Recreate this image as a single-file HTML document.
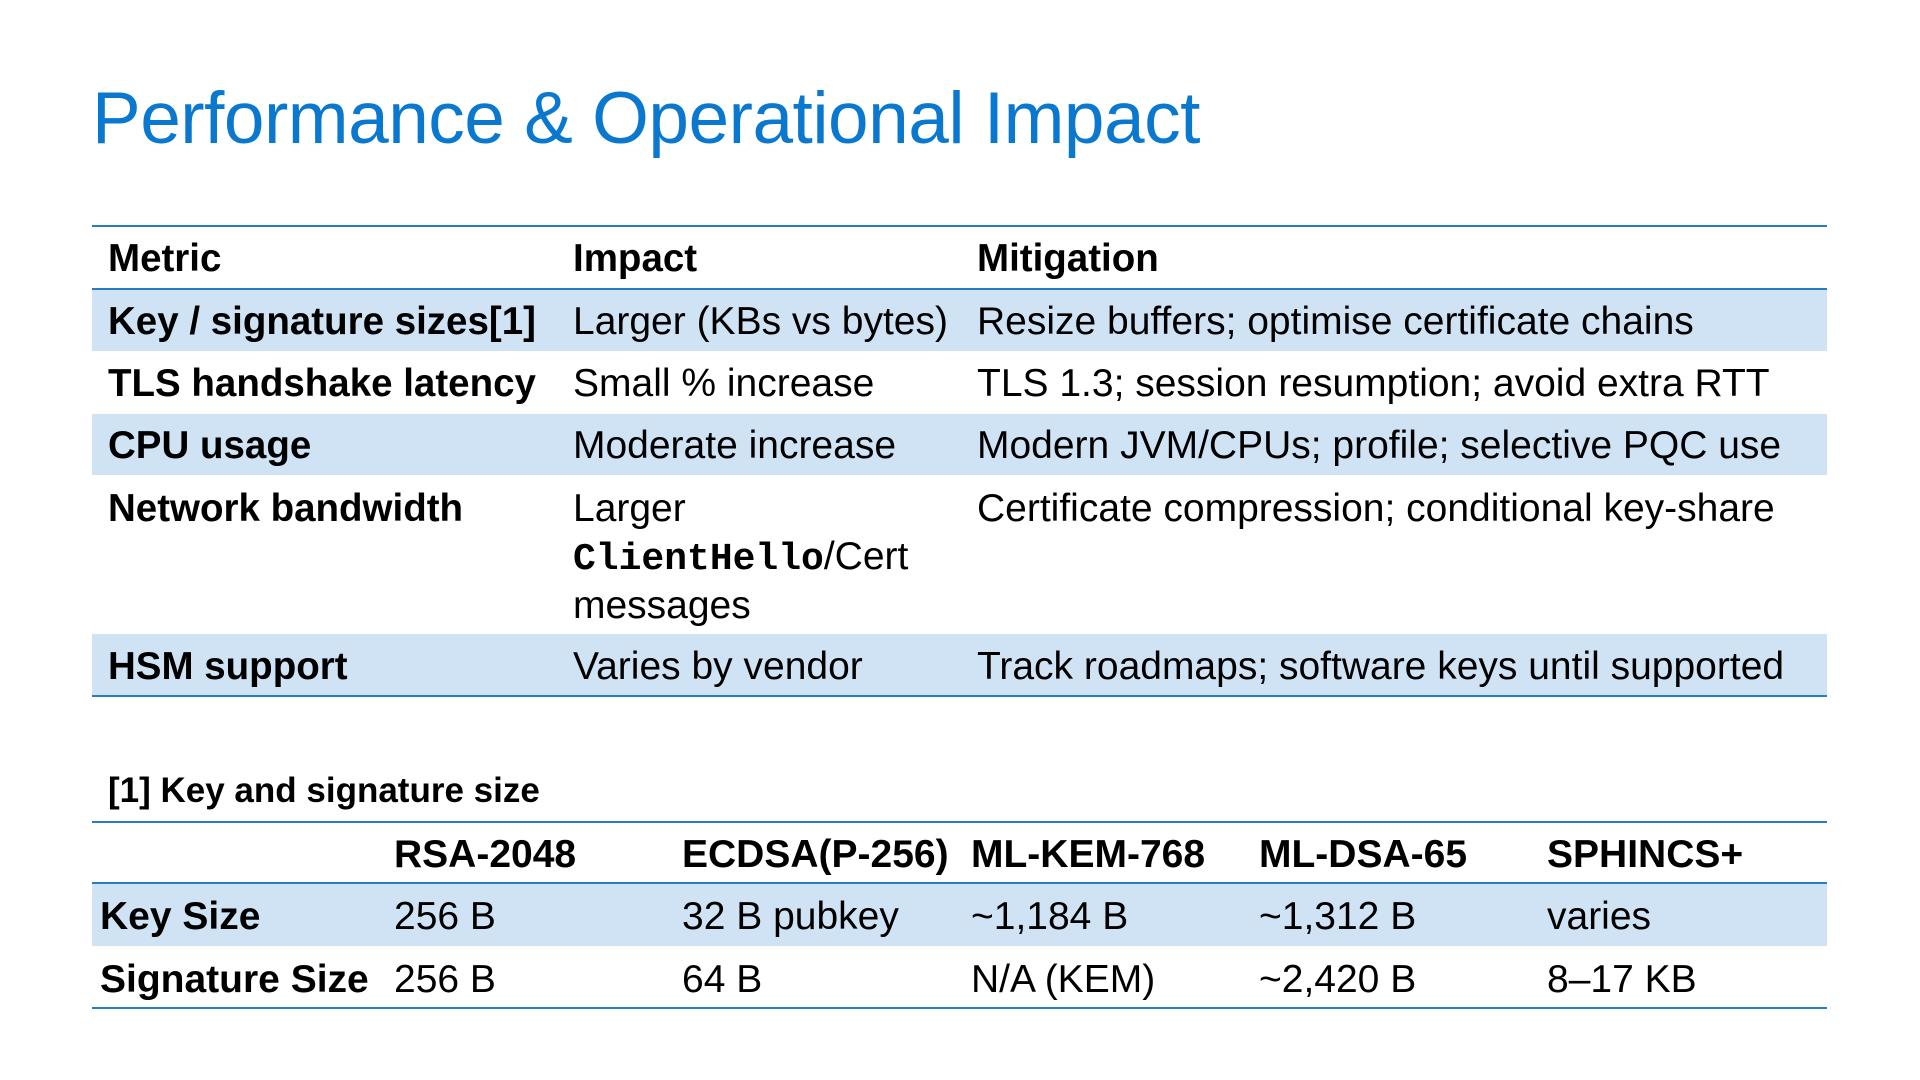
<!DOCTYPE html>
<html><head><meta charset="utf-8"><style>
body{margin:0;width:1920px;height:1080px;background:#fff;position:relative;overflow:hidden;font-family:"Liberation Sans",sans-serif;color:#000}
.abs{position:absolute}
.title{left:92px;top:77px;font-size:73px;color:#0b78d0;letter-spacing:-0.5px;white-space:nowrap}
.line{position:absolute;left:92px;width:1735px;height:2px;background:#2a7cc2}
.row{position:absolute;left:92px;width:1735px}
.blue{background:#cfe3f5}
.c{position:absolute;font-size:39px;white-space:nowrap;line-height:48px}
.b{font-weight:bold;font-size:38.5px}
.mono{font-family:"Liberation Mono",monospace;font-weight:bold;font-size:38px}
.cap{font-size:35px;font-weight:bold;left:108px;top:771px;white-space:nowrap}
.c2{position:absolute;font-size:39px;white-space:nowrap;line-height:48px}
</style></head><body>
<div class="abs title">Performance &amp; Operational Impact</div>

<div>
<div class="row blue" style="top:289px;height:62px"></div>
<div class="row blue" style="top:414px;height:61px"></div>
<div class="row blue" style="top:634px;height:62px"></div>
<div class="line" style="top:225px"></div>
<div class="line" style="top:288px"></div>
<div class="line" style="top:695px"></div>

<div class="c b" style="left:108px;top:235px">Metric</div>
<div class="c b" style="left:573px;top:235px">Impact</div>
<div class="c b" style="left:977px;top:235px">Mitigation</div>

<div class="c b" style="left:108px;top:298px">Key / signature sizes[1]</div>
<div class="c" style="left:573px;top:298px">Larger (KBs vs bytes)</div>
<div class="c" style="left:977px;top:298px">Resize buffers; optimise certificate chains</div>

<div class="c b" style="left:108px;top:360px">TLS handshake latency</div>
<div class="c" style="left:573px;top:360px">Small % increase</div>
<div class="c" style="left:977px;top:360px">TLS 1.3; session resumption; avoid extra RTT</div>

<div class="c b" style="left:108px;top:422px">CPU usage</div>
<div class="c" style="left:573px;top:422px">Moderate increase</div>
<div class="c" style="left:977px;top:422px">Modern JVM/CPUs; profile; selective PQC use</div>

<div class="c b" style="left:108px;top:485px">Network bandwidth</div>
<div class="c" style="left:573px;top:485px">Larger</div>
<div class="c" style="left:573px;top:533px"><span class="mono">ClientHello</span>/Cert</div>
<div class="c" style="left:573px;top:582px">messages</div>
<div class="c" style="left:977px;top:485px">Certificate compression; conditional key-share</div>

<div class="c b" style="left:108px;top:643px">HSM support</div>
<div class="c" style="left:573px;top:643px">Varies by vendor</div>
<div class="c" style="left:977px;top:643px">Track roadmaps; software keys until supported</div>
</div>

<div class="abs cap">[1] Key and signature size</div>

<div>
<div class="row blue" style="top:884px;height:62px"></div>
<div class="line" style="top:821px"></div>
<div class="line" style="top:882px"></div>
<div class="line" style="top:1007px"></div>

<div class="c2 b" style="left:394px;top:831px">RSA-2048</div>
<div class="c2 b" style="left:682px;top:831px">ECDSA(P-256)</div>
<div class="c2 b" style="left:971px;top:831px">ML-KEM-768</div>
<div class="c2 b" style="left:1259px;top:831px">ML-DSA-65</div>
<div class="c2 b" style="left:1547px;top:831px">SPHINCS+</div>

<div class="c2 b" style="left:100px;top:893px">Key Size</div>
<div class="c2" style="left:394px;top:893px">256 B</div>
<div class="c2" style="left:682px;top:893px">32 B pubkey</div>
<div class="c2" style="left:971px;top:893px">~1,184 B</div>
<div class="c2" style="left:1259px;top:893px">~1,312 B</div>
<div class="c2" style="left:1547px;top:893px">varies</div>

<div class="c2 b" style="left:100px;top:956px">Signature Size</div>
<div class="c2" style="left:394px;top:956px">256 B</div>
<div class="c2" style="left:682px;top:956px">64 B</div>
<div class="c2" style="left:971px;top:956px">N/A (KEM)</div>
<div class="c2" style="left:1259px;top:956px">~2,420 B</div>
<div class="c2" style="left:1547px;top:956px">8–17 KB</div>
</div>
</body></html>
